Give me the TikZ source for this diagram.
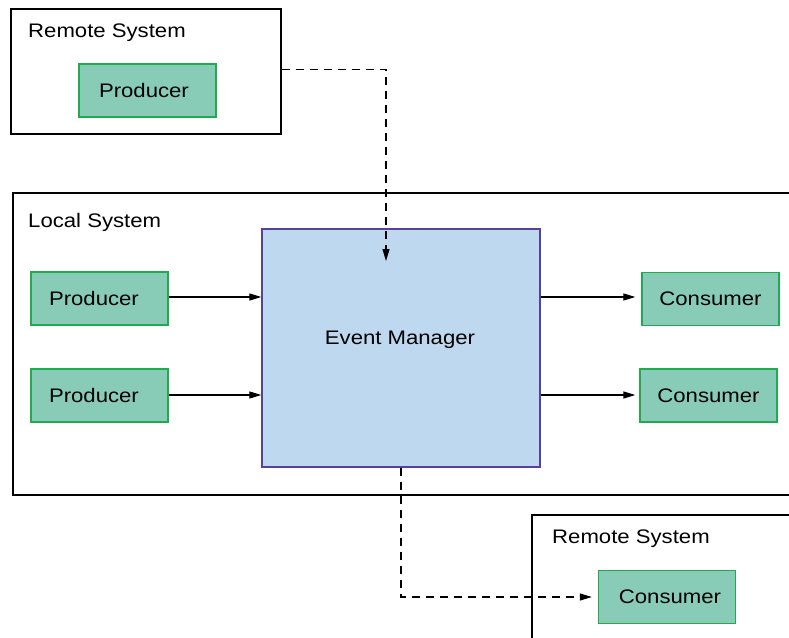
\documentclass[tikz,border=0pt]{standalone}
\usepackage{fontspec}
\setmainfont{Liberation Sans}[FakeStretch=1.13]
\usetikzlibrary{arrows.meta,calc}

\definecolor{unitfill}{RGB}{136,204,184}
\definecolor{unitline}{RGB}{34,170,80}
\definecolor{mgrfill}{RGB}{190,216,240}
\definecolor{mgrline}{RGB}{88,64,156}

\tikzset{
  system/.style={draw=black, line width=1.6pt, fill=none, inner sep=0pt, anchor=north west},
  unit/.style={draw=unitline, fill=unitfill, line width=1.3pt, inner sep=0pt,
    minimum width=137pt, minimum height=53pt, font=\fontsize{19.6}{22}\selectfont},
  manager/.style={draw=mgrline, fill=mgrfill, line width=1.3pt, inner sep=0pt,
    minimum width=278pt, minimum height=238pt, font=\fontsize{19.6}{22}\selectfont},
  caption/.style={anchor=west, inner sep=0pt, font=\fontsize{19.6}{22}\selectfont},
  flow/.style={line width=1.2pt, -{Triangle[length=12pt,width=7pt]}},
  remote/.style={flow, dash pattern=on 8pt off 6pt},
}

\begin{document}
\begin{tikzpicture}[x=1pt, y=-1pt]
  \useasboundingbox (0,0) rectangle (789,637);
  \clip (0,0) rectangle (789,637);

  % system boundaries
  \node[system, minimum width=270pt, minimum height=125pt] (remoteA) at (10,8) {};
  \node[system, minimum width=820pt, minimum height=302pt] (local) at (12,192) {};
  \node[system, minimum width=300pt, minimum height=160pt] (remoteB) at (531,514) {};

  \node[caption] (remoteAlabel) at (28,33) {Remote System};
  \node[caption] (locallabel) at (28,222) {Local System};
  \node[caption] (remoteBlabel) at (552,539) {Remote System};

  % components (producer labels sit slightly left of centre)
  \node[unit, text width=127pt, align=left] (prodR) at (147.5,90.5) {\hspace*{15pt}Producer};
  \node[unit, text width=127pt, align=left] (prod1) at (99.5,298.5) {\hspace*{13pt}Producer};
  \node[unit, text width=127pt, align=left] (prod2) at (99.5,395.5) {\hspace*{13pt}Producer};
  \node[unit] (cons1) at (710.5,299) {Consumer};
  \node[unit] (cons2) at (708.5,395.5) {Consumer};
  \node[unit] (consR) at (667,597) {\hspace*{6pt}Consumer};
  \node[manager] (mgr) at (401,348) {};
  \node[inner sep=0pt, font=\fontsize{19.6}{22}\selectfont] (mgrlabel) at (400,340) {Event Manager};

  \coordinate (mgrIn) at (386,261);

  % local flows
  \draw[flow] (prod1.east |- 0,297) -- (mgr.west |- 0,297);
  \draw[flow] (prod2.east |- 0,395) -- (mgr.west |- 0,395);
  \draw[flow, shorten >=6pt] (mgr.east |- 0,297) -- (cons1.west |- 0,297);
  \draw[flow, shorten >=4pt] (mgr.east |- 0,395) -- (cons2.west |- 0,395);

  % remote flows
  \draw[remote] ([yshift=1.5pt]remoteA.east) -| (mgrIn);
  \draw[remote, shorten >=6pt] (mgr.south) |- (consR.west);
\end{tikzpicture}
\end{document}
